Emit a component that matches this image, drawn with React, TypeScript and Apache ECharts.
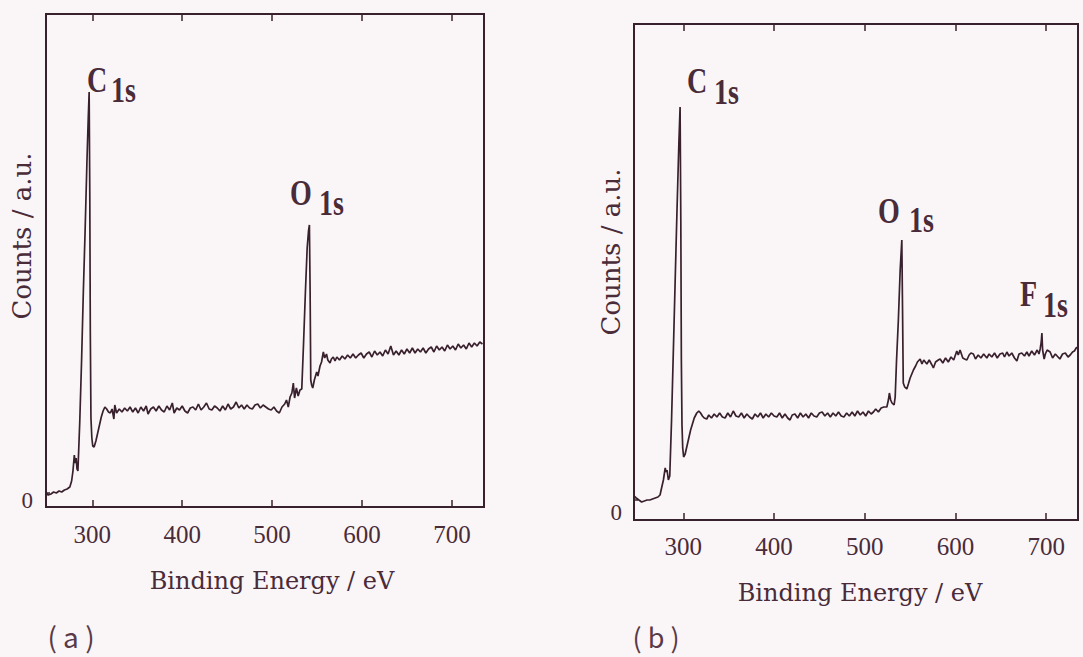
import React, { useEffect, useRef } from 'react';
import * as echarts from 'echarts';

// ---- Panel (a): binding energy (eV) and counts (a.u.) ----
const energyA = [
  248.5, 251, 254, 257, 260, 263, 266, 269, 272, 275, 277, 278.5, 280, 281, 282, 283, 284, 286, 288, 290,
  292, 294, 295.5, 296.5, 297.2, 297.8, 298.5, 299.5, 300.5, 302, 304, 306, 308, 310, 312, 314, 316, 318, 320, 322,
  324, 325, 327, 330, 333, 336, 339, 342, 345, 348, 351, 354, 357, 360, 362, 365, 368, 371, 374, 377,
  380, 383, 386, 389, 391, 394, 397, 400, 403, 406, 409, 412, 415, 418, 421, 424, 427, 430, 433, 436,
  439, 442, 445, 448, 451, 454, 457, 460, 463, 466, 469, 472, 475, 478, 481, 484, 487, 490, 493, 496,
  499, 502, 505, 508, 511, 514, 516, 518, 520, 522, 523.6, 525, 527, 529, 531, 533, 535, 537, 539, 540.5,
  541.5, 542.3, 543, 544, 545.2, 547, 549.6, 551, 553.3, 555, 557, 558.5, 560.5, 562, 564.4, 566, 568, 570, 572, 575,
  578, 581, 584, 587, 590, 593, 596, 599, 602, 605, 608, 611, 614, 617, 620, 623, 626, 629, 632, 635,
  638, 641, 644, 647, 650, 653, 656, 659, 662, 665, 668, 671, 674, 677, 680, 683, 686, 689, 692, 695,
  698, 701, 704, 707, 710, 713, 716, 719, 722, 725, 728, 731, 734,
];
const countsA = [
  0, -2, -1, 1, 0, 2, 1, 3, 4, 6, 12, 22, 38, 30, 35, 24, 22, 70, 130, 200,
  262, 330, 375, 401, 300, 160, 75, 55, 47, 46, 52, 60, 68, 76, 82, 86, 84, 81, 80, 84,
  74, 88, 80, 84, 81, 85, 82, 86, 81, 85, 80, 86, 82, 87, 79, 84, 86, 82, 87, 83,
  81, 87, 83, 90, 80, 85, 83, 87, 82, 80, 85, 86, 83, 89, 83, 86, 90, 84, 83, 87,
  85, 82, 87, 83, 89, 84, 86, 91, 85, 88, 84, 88, 85, 84, 88, 89, 85, 88, 86, 84,
  83, 86, 82, 80, 86, 89, 93, 86, 96, 100, 110, 95, 105, 97, 103, 104, 150, 200, 245, 262,
  268, 200, 113, 108, 105, 113, 121, 117, 127, 131, 141, 135, 139, 133, 130, 134, 136, 132, 136, 133,
  137, 134, 138, 135, 139, 135, 138, 140, 135, 139, 141, 136, 142, 138, 141, 137, 143, 139, 147, 138,
  142, 138, 143, 139, 144, 140, 145, 140, 144, 141, 145, 140, 144, 146, 141, 147, 143, 146, 142, 148,
  144, 147, 143, 149, 145, 148, 144, 150, 146, 150, 147, 151, 149,
];

// ---- Panel (b) ----
const energyB = [
  245.6, 248, 251, 254, 257, 260, 263, 266, 269, 272, 274.3, 276, 278, 280, 281, 282, 283.5, 285, 287, 289,
  291, 293, 295, 296.4, 297.2, 297.8, 298.5, 299.3, 300.3, 302, 304, 306, 308, 310, 312, 314.8, 317, 319, 321, 323,
  325.8, 328, 331, 334, 337, 340, 343, 346, 349, 352, 355, 358, 361, 364, 367, 370, 373, 376, 379, 382,
  385, 388, 391, 394, 397, 400, 403, 406, 409, 412, 415, 417.6, 420, 423, 426, 429, 432, 435, 438, 441,
  444, 447, 450, 453, 456, 459, 462, 465, 468, 471, 474, 477, 480, 483, 486, 489, 492, 495, 498, 501,
  504, 507, 509.5, 512, 515, 518, 521, 524.3, 526, 527.1, 528.5, 530, 532.3, 533.5, 535, 537, 539, 540.8, 541.6, 542.4,
  544, 546.3, 548, 550, 553.6, 556, 558, 561, 563, 565, 568.4, 571, 574, 575.6, 578, 581, 583, 586, 589, 592,
  595, 598, 601.4, 603, 605, 608, 610, 612.5, 615, 617, 619.7, 622, 625, 628, 631, 634.5, 637, 640, 643, 646,
  649, 652, 654, 656.6, 659, 662, 665, 667.6, 670, 673, 676, 678.6, 681, 684, 687, 690, 692, 693.3, 694.5, 695.2,
  696, 697.7, 699, 701, 704.3, 707, 710, 713, 715, 718, 721, 724, 726.4, 729, 731, 733.7,
];
const countsB = [
  4, 2, 0, -2, -1, 0, 0, 1, 2, 3, 5, 12, 20, 32, 28, 30, 20, 24, 80, 150,
  220, 290, 355, 393, 280, 140, 75, 52, 43, 46, 54, 62, 70, 76, 82, 87, 89, 87, 84, 82,
  81, 85, 82, 86, 83, 87, 83, 82, 87, 83, 89, 84, 83, 87, 82, 86, 83, 81, 86, 83,
  87, 82, 86, 83, 87, 84, 83, 87, 82, 86, 82, 80, 85, 86, 82, 87, 83, 86, 82, 87,
  84, 83, 87, 88, 84, 87, 83, 87, 84, 88, 84, 83, 87, 84, 88, 84, 89, 85, 88, 84,
  89, 86, 88, 91, 88, 92, 93, 93, 100, 107, 100, 97, 95, 103, 140, 180, 230, 260, 190, 117,
  113, 111, 116, 122, 130, 134, 138, 141, 136, 140, 136, 140, 135, 132, 138, 140, 141, 137, 142, 138,
  143, 140, 149, 145, 150, 142, 141, 140, 145, 147, 146, 141, 145, 142, 146, 142, 146, 143, 147, 142,
  146, 147, 143, 148, 144, 147, 142, 139, 146, 147, 144, 148, 144, 149, 145, 150, 146, 151, 158, 167,
  150, 141, 146, 150, 148, 142, 146, 143, 141, 146, 147, 143, 145, 148, 149, 153,
];

const tickEnergies = [300, 400, 500, 600, 700];
const zeroTick = [0];

const INK = '#38202c';
const TEXT = '#4a2b38';
const SERIF = '"Liberation Serif", "Times New Roman", serif';
const DSERIF = '"DejaVu Serif", serif';

function bottomAxis(gridIndex: number, min: number, max: number, margin: number) {
  return {
    type: 'value', gridIndex, min, max, position: 'bottom',
    axisLine: { show: true, onZero: false, lineStyle: { color: INK, width: 2 } },
    axisTick: { show: true, inside: true, length: 7, customValues: tickEnergies, lineStyle: { color: INK, width: 1.5 } },
    axisLabel: { show: true, customValues: tickEnergies, margin, color: TEXT, fontFamily: SERIF, fontSize: 25 },
    splitLine: { show: false },
  };
}
function topAxis(gridIndex: number, min: number, max: number) {
  return {
    type: 'value', gridIndex, min, max, position: 'top',
    axisLine: { show: true, onZero: false, lineStyle: { color: INK, width: 2 } },
    axisTick: { show: true, inside: true, length: 7, customValues: tickEnergies, lineStyle: { color: INK, width: 1.5 } },
    axisLabel: { show: false },
    splitLine: { show: false },
  };
}
function leftAxis(gridIndex: number, min: number, max: number, margin: number, lineHeight: number) {
  return {
    type: 'value', gridIndex, min, max,
    axisLine: { show: true, onZero: false, lineStyle: { color: INK, width: 2 } },
    axisTick: { show: true, inside: true, length: 4, customValues: zeroTick, lineStyle: { color: INK, width: 1.5 } },
    axisLabel: {
      show: true, customValues: zeroTick, margin, color: TEXT, fontFamily: SERIF, fontSize: 23,
      verticalAlign: 'top', lineHeight,
    },
    splitLine: { show: false },
  };
}

function peakText(text: string, x: number, y: number) {
  return {
    type: 'text', x, y, scaleY: 1.25,
    style: {
      text, fill: TEXT, font: `bold 28px ${SERIF}`,
      align: 'left', verticalAlign: 'middle', textAlign: 'left', textVerticalAlign: 'middle',
    },
  };
}
function plainText(text: string, x: number, y: number, font: string, rotation = 0, color = TEXT, lineHeight?: number) {
  return {
    type: 'text', x, y, rotation,
    style: {
      text, fill: color, font, lineHeight,
      align: 'center', verticalAlign: 'middle', textAlign: 'center', textVerticalAlign: 'middle',
    },
  };
}

export default function App() {
  const ref = useRef<HTMLDivElement>(null);
  useEffect(() => {
    const chart = echarts.init(ref.current as HTMLDivElement, null, { renderer: 'svg' });
    chart.setOption({
      animation: false,
      backgroundColor: '#faf6f8',
      grid: [
        { left: 46, top: 14, width: 438, height: 493, show: true, borderColor: INK, borderWidth: 2, backgroundColor: 'transparent' },
        { left: 634, top: 24, width: 444, height: 496, show: true, borderColor: INK, borderWidth: 2, backgroundColor: 'transparent' },
      ],
      xAxis: [
        bottomAxis(0, 248.5, 735.7, 15),
        topAxis(0, 248.5, 735.7),
        bottomAxis(1, 245.6, 735, 14),
        topAxis(1, 245.6, 735),
      ],
      yAxis: [
        leftAxis(0, -14, 479, 13, 14),
        leftAxis(1, -20, 476, 12, 24),
      ],
      series: [
        {
          type: 'line', xAxisIndex: 0, yAxisIndex: 0, showSymbol: false, silent: true,
          lineStyle: { color: INK, width: 1.7 },
          data: energyA.map((e, i) => [e, countsA[i]]),
        },
        {
          type: 'line', xAxisIndex: 2, yAxisIndex: 1, showSymbol: false, silent: true,
          lineStyle: { color: INK, width: 1.7 },
          data: energyB.map((e, i) => [e, countsB[i]]),
        },
      ],
      graphic: [
        peakText('C', 87, 80),
        peakText('1s', 111, 90),
        peakText('O', 290, 193),
        peakText('1s', 319, 203),
        peakText('C', 687, 81),
        peakText('1s', 714, 92),
        peakText('O', 878, 211),
        peakText('1s', 909, 220),
        peakText('F', 1020, 294),
        peakText('1s', 1043, 305),
        plainText('Counts / a.u.', 22, 236, `26px ${DSERIF}`, Math.PI / 2),
        plainText('Counts / a.u.', 611, 252, `26px ${DSERIF}`, Math.PI / 2),
        plainText('Binding Energy / eV', 272, 581, `24px ${DSERIF}`),
        plainText('Binding Energy / eV', 860, 593, `24px ${DSERIF}`),
        plainText('( a )', 71, 636, `28px "Noto Sans CJK JP", sans-serif`, 0, '#5a3a47', 28),
        plainText('( b )', 656, 636, `27px "Noto Sans CJK JP", sans-serif`, 0, '#5a3a47', 28),
      ],
    });
    return () => chart.dispose();
  }, []);
  return (
    <div
      ref={ref}
      style={{ position: 'fixed', left: 0, top: 0, width: 1083, height: 657, background: '#faf6f8' }}
    />
  );
}
